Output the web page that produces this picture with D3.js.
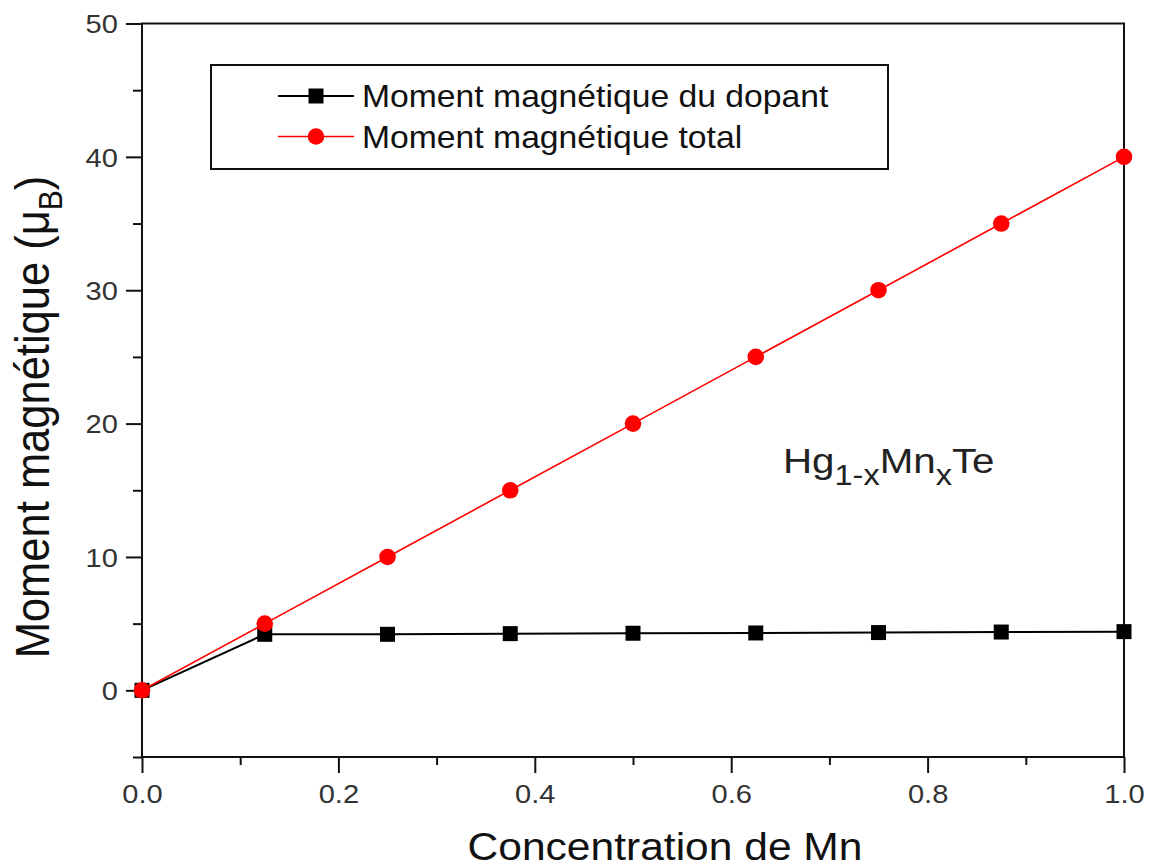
<!DOCTYPE html>
<html>
<head>
<meta charset="utf-8">
<script src="https://cdn.jsdelivr.net/npm/d3@7"></script>
<style>
  body { margin: 0; background: #fff; }
  svg { display: block; font-family: "Liberation Sans", Arial, sans-serif; }
</style>
</head>
<body>
<div id="chart"></div>
<script>
// data
const concentration = [0, 0.125, 0.25, 0.375, 0.5, 0.625, 0.75, 0.875, 1.0];
const momentDopant = [0, 4.2, 4.2, 4.25, 4.28, 4.3, 4.33, 4.37, 4.4];
const momentTotal = [0, 5, 10, 15, 20, 25, 30, 35, 40];
const xTicks = [0, 0.2, 0.4, 0.6, 0.8, 1.0];
const xMinorTicks = [0.1, 0.3, 0.5, 0.7, 0.9];
const yTicks = [0, 10, 20, 30, 40, 50];
const yMinorTicks = [-5, 5, 15, 25, 35, 45];
const legendLabels = ["Moment magnétique du dopant", "Moment magnétique total"];

const width = 1152;
const height = 867;
const margin = { top: 23.5, right: 28, bottom: 110, left: 142 };
const sx = 1.12; // the source picture is a bit wider than tall

const x = d3.scaleLinear()
   .domain([0, 1])
   .range([margin.left, width - margin.right]);

const y = d3.scaleLinear()
   .domain([-5, 50])
   .range([height - margin.bottom, margin.top]);

const svg = d3.select("#chart")
   .append("svg")
   .attr("width", width)
   .attr("height", height)
   .attr("viewBox", [0, 0, width, height]);

// minor ticks
svg.append("g")
   .attr("transform", `translate(0,${y(-5)})`)
   .call(d3.axisBottom(x).tickValues(xMinorTicks).tickSize(8).tickFormat(""))
   .call(g => g.select(".domain").remove())
   .call(g => g.selectAll(".tick line").attr("stroke", "#111").attr("stroke-width", 2));

svg.append("g")
   .attr("transform", `translate(${margin.left},0)`)
   .call(d3.axisLeft(y).tickValues(yMinorTicks).tickSize(9).tickFormat(""))
   .call(g => g.select(".domain").remove())
   .call(g => g.selectAll(".tick line").attr("stroke", "#111").attr("stroke-width", 2));

// major ticks
svg.append("g")
   .attr("transform", `translate(0,${y(-5)})`)
   .call(d3.axisBottom(x).tickValues(xTicks).tickSize(16).tickPadding(12).tickFormat(d3.format(".1f")))
   .call(g => g.select(".domain").remove())
   .call(g => g.selectAll(".tick line").attr("stroke", "#111").attr("stroke-width", 2))
   .call(g => g.selectAll(".tick text")
      .attr("fill", "#333")
      .style("font-size", "26px")
      .attr("y", 46).attr("dy", 0)
      .attr("transform", `scale(${sx},1)`));

svg.append("g")
   .attr("transform", `translate(${margin.left},0)`)
   .call(d3.axisLeft(y).tickValues(yTicks).tickSize(16).tickFormat(d3.format("d")))
   .call(g => g.select(".domain").remove())
   .call(g => g.selectAll(".tick line").attr("stroke", "#111").attr("stroke-width", 2))
   .call(g => g.selectAll(".tick text")
      .attr("fill", "#333")
      .style("font-size", "26px")
      .attr("x", -24 / sx).attr("dy", "0.36em")
      .attr("transform", `scale(${sx},1)`));

// frame
svg.append("rect")
   .attr("x", margin.left)
   .attr("y", margin.top)
   .attr("width", width - margin.left - margin.right)
   .attr("height", y(-5) - margin.top)
   .attr("fill", "none")
   .attr("stroke", "#111")
   .attr("stroke-width", 2);

const line = d3.line()
   .x((d, i) => x(concentration[i]))
   .y(d => y(d));

// dopant series
svg.append("path")
   .datum(momentDopant)
   .attr("fill", "none")
   .attr("stroke", "#000")
   .attr("stroke-width", 2)
   .attr("d", line);

svg.append("g")
   .selectAll("rect")
   .data(momentDopant)
   .join("rect")
   .attr("x", (d, i) => x(concentration[i]) - 7.5)
   .attr("y", d => y(d) - 7.5)
   .attr("width", 15)
   .attr("height", 15)
   .attr("fill", "#000");

// total series
svg.append("path")
   .datum(momentTotal)
   .attr("fill", "none")
   .attr("stroke", "#ff0000")
   .attr("stroke-width", 1.6)
   .attr("d", line);

svg.append("g")
   .selectAll("circle")
   .data(momentTotal)
   .join("circle")
   .attr("cx", (d, i) => x(concentration[i]))
   .attr("cy", d => y(d))
   .attr("r", 8.3)
   .attr("fill", "#ff0000");

// legend
svg.append("rect")
   .attr("x", 211)
   .attr("y", 65)
   .attr("width", 677)
   .attr("height", 104)
   .attr("fill", "none")
   .attr("stroke", "#111")
   .attr("stroke-width", 2);

const legendRows = [
   { label: legendLabels[0], color: "#000", stroke: 2, marker: "square", cy: 96 },
   { label: legendLabels[1], color: "#ff0000", stroke: 1.6, marker: "circle", cy: 136.5 }
];

legendRows.forEach(row => {
   svg.append("line")
      .attr("x1", 278).attr("x2", 354)
      .attr("y1", row.cy).attr("y2", row.cy)
      .attr("stroke", row.color)
      .attr("stroke-width", row.stroke);
   if (row.marker === "square") {
      svg.append("rect")
         .attr("x", 316 - 7.5).attr("y", row.cy - 7.5)
         .attr("width", 15).attr("height", 15)
         .attr("fill", row.color);
   } else {
      svg.append("circle")
         .attr("cx", 316).attr("cy", row.cy)
         .attr("r", 8.3)
         .attr("fill", row.color);
   }
   svg.append("text")
      .attr("transform", `translate(362,${row.cy + 11}) scale(1.07,1)`)
      .style("font-size", "31.5px")
      .attr("fill", "#111")
      .text(row.label);
});

// compound label
const compound = svg.append("text")
   .attr("transform", `translate(783,473) scale(${sx},1)`)
   .attr("fill", "#222")
   .style("font-size", "36px");
compound.append("tspan").text("Hg");
compound.append("tspan").attr("dy", 12).style("font-size", "29px").text("1-x");
compound.append("tspan").attr("dy", -12).text("Mn");
compound.append("tspan").attr("dy", 12).style("font-size", "29px").text("x");
compound.append("tspan").attr("dy", -12).text("Te");

// axis titles
svg.append("text")
   .attr("transform", `translate(665,860) scale(${sx},1)`)
   .attr("text-anchor", "middle")
   .attr("fill", "#111")
   .style("font-size", "38px")
   .text("Concentration de Mn");

const yTitle = svg.append("text")
   .attr("transform", `translate(49,417) rotate(-90) scale(1,${sx})`)
   .attr("text-anchor", "middle")
   .attr("fill", "#111")
   .style("font-size", "43.5px");
yTitle.append("tspan").text("Moment magnétique (μ");
yTitle.append("tspan").attr("dy", 12).style("font-size", "30px").text("B");
yTitle.append("tspan").attr("dy", -12).text(")");
</script>
</body>
</html>
